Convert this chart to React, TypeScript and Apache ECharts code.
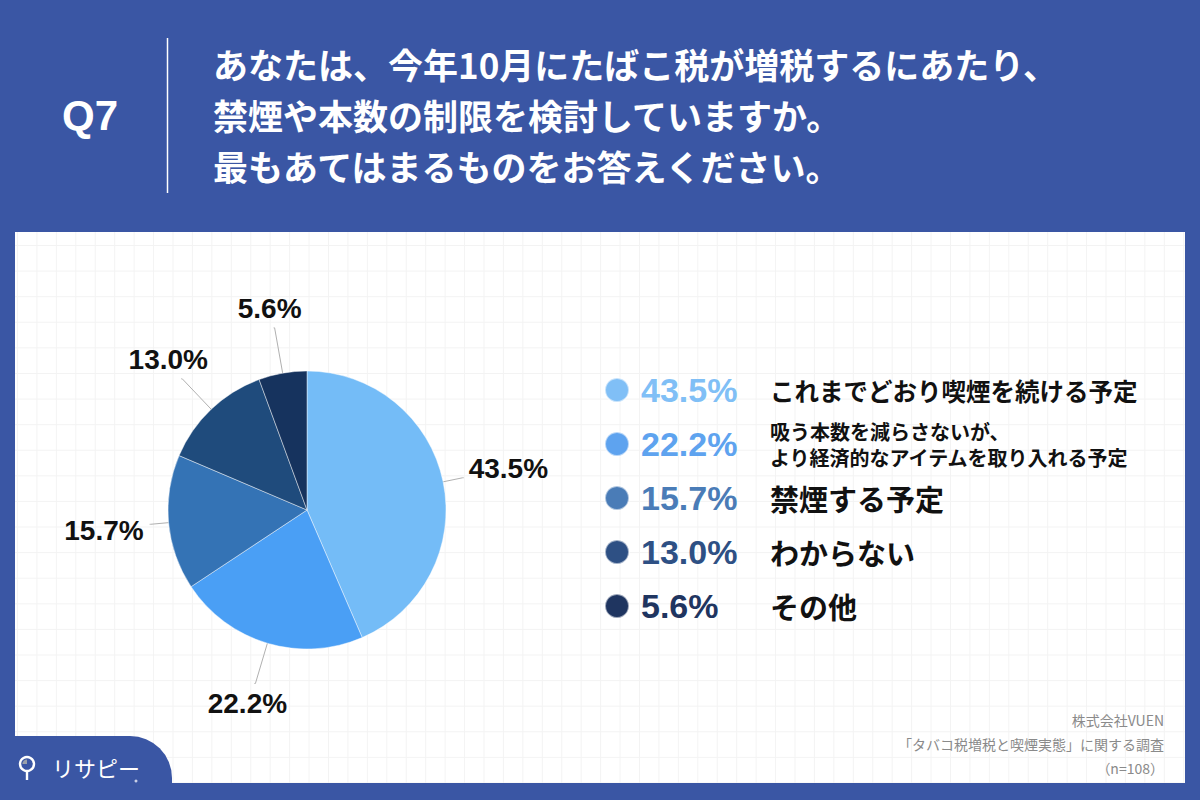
import React, { useEffect, useRef } from "react";
import * as echarts from "echarts";

const categories = [
  "これまでどおり喫煙を続ける予定",
  "吸う本数を減らさないが、\nより経済的なアイテムを取り入れる予定",
  "禁煙する予定",
  "わからない",
  "その他",
];
const values = [43.5, 22.2, 15.7, 13.0, 5.6];
const titleLines = [
  "あなたは、今年10月にたばこ税が増税するにあたり、",
  "禁煙や本数の制限を検討していますか。",
  "最もあてはまるものをお答えください。",
];
const footerLines = ["株式会社VUEN", "「タバコ税増税と喫煙実態」に関する調査", "（n=108）"];

const sliceColors = ["#74BCF7", "#4A9FF5", "#3473B5", "#1F4B7C", "#16335E"];
const legendColors = ["#80BFF6", "#5EA3EF", "#4A7CB7", "#2E5084", "#1F3560"];
const labelLineLens = [20, 42, 18, 42, 46];
const labelFontSizes = [24.5, 20, 29, 29, 29];

const CJK = '"Noto Sans CJK JP", "Noto Sans", sans-serif';
const NUM = '"Liberation Sans", Arial, sans-serif';

export default function App() {
  const ref = useRef<HTMLDivElement>(null);
  useEffect(() => {
    document.body.style.margin = "0";
    const chart = echarts.init(ref.current!, null, { renderer: "svg" });
    const firstCenter = 390;
    const legendStep = 54;
    const itemH = 34;
    const labelTexts: any[] = [];
    categories.forEach((c, i) => {
      const lines = c.split("\n");
      const lh = Math.round(labelFontSizes[i] * 1.3);
      lines.forEach((ln, j) => {
        labelTexts.push({
          type: "text",
          x: 770,
          y: firstCenter + i * legendStep + (j - (lines.length - 1) / 2) * lh,
          style: {
            text: ln,
            fill: "#111",
            font: `bold ${labelFontSizes[i]}px ${CJK}`,
            textVerticalAlign: "middle",
          },
        });
      });
    });
    const graphics: any[] = [
      { type: "line", shape: { x1: 167.5, y1: 38, x2: 167.5, y2: 193 }, style: { stroke: "#ffffff", lineWidth: 1.5 } },
      {
        type: "text",
        x: 62,
        y: 115,
        style: { text: "Q7", fill: "#fff", font: `bold 42px ${NUM}`, textVerticalAlign: "middle" },
      },
      ...titleLines.map((t, i) => ({
        type: "text",
        x: 213,
        y: 63 + i * 51,
        style: { text: t, fill: "#fff", font: `bold 35px ${CJK}`, textVerticalAlign: "middle" },
      })),
      ...labelTexts,
      ...footerLines.map((t, i) => ({
        type: "text",
        x: 1164,
        y: 720 + i * 24,
        style: { text: t, fill: "#8a8a8a", font: `14px ${CJK}`, textAlign: "right", textVerticalAlign: "middle" },
      })),
      {
        type: "rect",
        shape: { x: -50, y: 736, width: 222, height: 120, r: [0, 42, 0, 0] },
        style: { fill: "#3A56A4" },
      },
      { type: "circle", shape: { cx: 27, cy: 764, r: 7 }, style: { fill: "none", stroke: "#fff", lineWidth: 2.4 } },
      { type: "sector", shape: { cx: 27, cy: 764, r: 4.6, startAngle: -Math.PI / 2, endAngle: Math.PI, clockwise: false }, style: { fill: "#9aa0aa" } },
      { type: "line", shape: { x1: 27, y1: 772, x2: 27, y2: 780 }, style: { stroke: "#fff", lineWidth: 2.4 } },
      {
        type: "text",
        x: 52,
        y: 767,
        style: { text: "リサピー", fill: "#fff", font: `22px ${CJK}`, textVerticalAlign: "middle" },
      },
      { type: "circle", shape: { cx: 136, cy: 781, r: 1.5 }, style: { fill: "#c8cfe6" } },
    ];

    chart.setOption({
      animation: false,
      backgroundColor: "transparent",
      legend: {
        orient: "vertical",
        left: 599,
        top: firstCenter - 22,
        itemWidth: 24,
        itemHeight: 24,
        itemGap: legendStep - itemH,
        icon: "circle",
        selectedMode: false,
        data: categories.map((c, i) => ({
          name: c,
          itemStyle: { color: legendColors[i] },
          textStyle: { color: legendColors[i] },
        })),
        formatter: (name: string) => {
          const i = categories.indexOf(name);
          return values[i].toFixed(1) + "%";
        },
        textStyle: {
          fontFamily: NUM,
          fontSize: 34,
          fontWeight: "bold",
          padding: [0, 0, 8, 7],
        },
      },
      series: [
        {
          type: "pie",
          center: [307, 510],
          radius: 139,
          startAngle: 90,
          clockwise: true,
          silent: true,
          itemStyle: { borderColor: "rgba(255,255,255,0.55)", borderWidth: 0.8 },
          label: {
            show: true,
            formatter: (p: any) => p.value.toFixed(1) + "%",
            color: "#111",
            fontFamily: NUM,
            fontWeight: "bold",
            fontSize: 28,
          },
          labelLine: { show: true, length2: 1, lineStyle: { color: "#b0b0b0", width: 1 } },
          labelLayout: (params: any) => {
            const pts = params.labelLinePoints;
            if (!pts) return {};
            const e = pts[pts.length - 1];
            const i = params.dataIndex;
            const cfg: any[] = [
              { x: e[0] + 5, y: e[1] - 9, align: "left", verticalAlign: "middle" },
              { x: e[0] - 7, y: e[1] + 6, align: "center", verticalAlign: "top" },
              { x: e[0] - 6, y: e[1] + 6, align: "right", verticalAlign: "middle" },
              { x: e[0] - 13, y: e[1] - 5, align: "center", verticalAlign: "bottom" },
              { x: e[0] - 4, y: e[1] - 5, align: "center", verticalAlign: "bottom" },
            ];
            return { ...cfg[i], labelLinePoints: pts };
          },
          data: categories.map((c, i) => ({
            name: c,
            value: values[i],
            itemStyle: { color: sliceColors[i] },
            labelLine: { length: labelLineLens[i] },
          })),
        },
      ],
      graphic: graphics,
    });
    return () => chart.dispose();
  }, []);

  return (
    <div style={{ position: "relative", width: 1200, height: 800, background: "#3A56A4", overflow: "hidden" }}>
      <div
        style={{
          position: "absolute",
          left: 15,
          top: 232,
          width: 1170,
          height: 551,
          backgroundColor: "#ffffff",
          backgroundImage:
            "linear-gradient(to right, #f3f3f3 1px, transparent 1px), linear-gradient(to bottom, #f3f3f3 1px, transparent 1px)",
          backgroundSize: "19.45px 25.6px",
          backgroundPosition: "2px 13px",
        }}
      />
      <div ref={ref} style={{ position: "absolute", left: 0, top: 0, width: 1200, height: 800 }} />
    </div>
  );
}
